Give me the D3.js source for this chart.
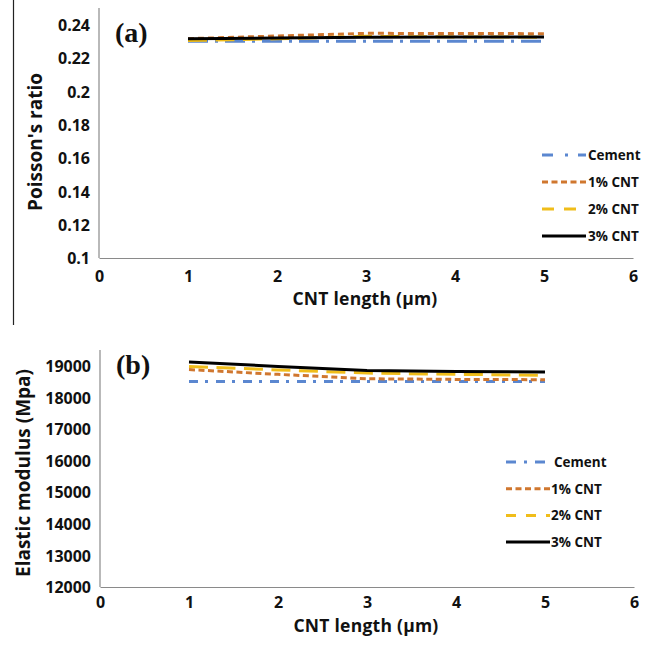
<!DOCTYPE html>
<html>
<head>
<meta charset="utf-8">
<script src="https://cdn.jsdelivr.net/npm/d3@7"></script>
<style>
  html, body { margin: 0; padding: 0; background: #fff; }
  svg { display: block; }
  text { font-family: "Open Sans", "DejaVu Sans", sans-serif; font-weight: 700; fill: #111; }
</style>
</head>
<body>
<svg id="chart" width="656" height="648"></svg>
<script>
// CNT length (µm) for every series
const lengths = [1, 2, 3, 4, 5];
const seriesNames = ["Cement", "1% CNT", "2% CNT", "3% CNT"];

// (a) Poisson's ratio
const poissonCement = [0.2300, 0.2300, 0.2300, 0.2300, 0.2300];
const poisson1 = [0.2316, 0.2332, 0.2348, 0.2347, 0.2346];
const poisson2 = [0.2305, 0.2315, 0.2330, 0.2326, 0.2325];
const poisson3 = [0.2315, 0.2320, 0.2325, 0.2326, 0.2326];
const poissonTicks = [0.1, 0.12, 0.14, 0.16, 0.18, 0.2, 0.22, 0.24];

// (b) Elastic modulus (MPa)
const modulusCement = [18500, 18500, 18500, 18500, 18500];
const modulus1 = [18880, 18730, 18590, 18570, 18560];
const modulus2 = [18980, 18870, 18770, 18730, 18700];
const modulus3 = [19120, 18980, 18850, 18820, 18800];
const modulusTicks = [12000, 13000, 14000, 15000, 16000, 17000, 18000, 19000];

const xTicks = [0, 1, 2, 3, 4, 5, 6];

const svg = d3.select("#chart");

// series colours, in the order of seriesNames
const colors = ["#5b87d0", "#d0772f", "#f0bd1a", "#000000"];

function panel(opts) {
  const g = svg.append("g");
  const x = d3.scaleLinear().domain([0, 6]).range([opts.left, opts.right]);
  const y = d3.scaleLinear().domain(opts.yDomain).range([opts.bottom, opts.top]);

  // axes
  const xAxis = d3.axisBottom(x).tickValues(xTicks).tickSize(0).tickFormat(d3.format("d"));
  const gx = g.append("g").attr("transform", `translate(0,${opts.bottom})`).call(xAxis);
  gx.select(".domain").attr("stroke", "#8a8a8a").attr("stroke-width", 1.2);
  gx.selectAll("text").attr("dy", 0).attr("y", opts.xLabelDy).style("font-size", "16px");

  const yAxis = d3.axisLeft(y).tickValues(opts.yTicks).tickSize(0).tickFormat(opts.yFormat);
  const gy = g.append("g").attr("transform", `translate(${opts.left},0)`).call(yAxis);
  gy.select(".domain").attr("stroke", "#8a8a8a").attr("stroke-width", 1.2).attr("d", `M0,${opts.top}V${opts.bottom}`);
  gy.selectAll("text").attr("x", -9).attr("dy", "0.36em").style("font-size", "16px");

  // series lines
  const line = d3.line().x((d, i) => x(lengths[i])).y(d => y(d));
  opts.series.forEach((vals, i) => {
    g.append("path")
      .datum(vals)
      .attr("d", line)
      .attr("fill", "none")
      .attr("stroke", colors[i])
      .attr("stroke-width", 3)
      .attr("stroke-dasharray", opts.lineDash[i])
      .attr("stroke-linecap", "butt");
  });

  // panel tag
  g.append("text")
    .attr("x", opts.left + 16).attr("y", opts.tagY)
    .style("font-family", "'Liberation Serif', 'DejaVu Serif', serif")
    .style("font-size", "28px").style("font-weight", "700")
    .text(opts.tag);

  // axis titles
  g.append("text")
    .attr("x", (opts.left + opts.right) / 2 - 1).attr("y", opts.xTitleY)
    .attr("text-anchor", "middle")
    .style("font-size", "17.5px").style("letter-spacing", "0.25px")
    .text("CNT length (µm)");

  g.append("text")
    .attr("transform", `translate(${opts.yTitleX},${opts.yTitleY}) rotate(-90)`)
    .attr("text-anchor", "middle").attr("dy", "0.35em")
    .style("font-size", "19px")
    .text(opts.yTitle);

  // legend
  const lg = g.append("g");
  seriesNames.forEach((name, i) => {
    const ly = opts.legendTop + i * opts.legendStep;
    lg.append("line")
      .attr("x1", opts.legendX).attr("x2", opts.legendX + 44)
      .attr("y1", ly).attr("y2", ly)
      .attr("stroke", colors[i]).attr("stroke-width", 3)
      .attr("stroke-dasharray", opts.legendDash[i]);
    lg.append("text")
      .attr("x", opts.legendX + opts.textGap + (i === 0 ? opts.cementShift : 0)).attr("y", ly)
      .attr("dy", "0.36em")
      .style("font-size", "13.5px")
      .text(name);
  });
}

// page frame stroke on the left of the upper figure
svg.append("line")
  .attr("x1", 13.5).attr("x2", 13.5).attr("y1", 0).attr("y2", 325)
  .attr("stroke", "#222").attr("stroke-width", 1.2);

panel({
  left: 99, right: 633, top: 8, bottom: 258,
  yDomain: [0.1, 0.25], yTicks: poissonTicks,
  yFormat: d => d3.format("")(+d.toFixed(2)),
  series: [poissonCement, poisson1, poisson2, poisson3],
  lineDash: ["20,7,3,7", "6,4", "19,8.5", null],
  xLabelDy: 23.5, tag: "(a)", tagY: 42,
  xTitleY: 305, yTitle: "Poisson's ratio", yTitleX: 35, yTitleY: 142,
  legendX: 542, legendTop: 155, legendStep: 27, textGap: 46, cementShift: 0,
  legendDash: ["11,12,3,10", "6,3.5", "12,10", null]
});

panel({
  left: 100, right: 634, top: 350, bottom: 587,
  yDomain: [12000, 19500], yTicks: modulusTicks,
  yFormat: d3.format("d"),
  series: [modulusCement, modulus1, modulus2, modulus3],
  lineDash: ["9,7,3,8", "6,3.5", "19,8.5", null],
  xLabelDy: 20.5, tag: "(b)", tagY: 374,
  xTitleY: 632, yTitle: "Elastic modulus (Mpa)", yTitleX: 23, yTitleY: 473,
  legendX: 506, legendTop: 462, legendStep: 26.7, textGap: 45, cementShift: 3,
  legendDash: ["10,8,3,8", "6,3.5", "10,10", null]
});
</script>
</body>
</html>
